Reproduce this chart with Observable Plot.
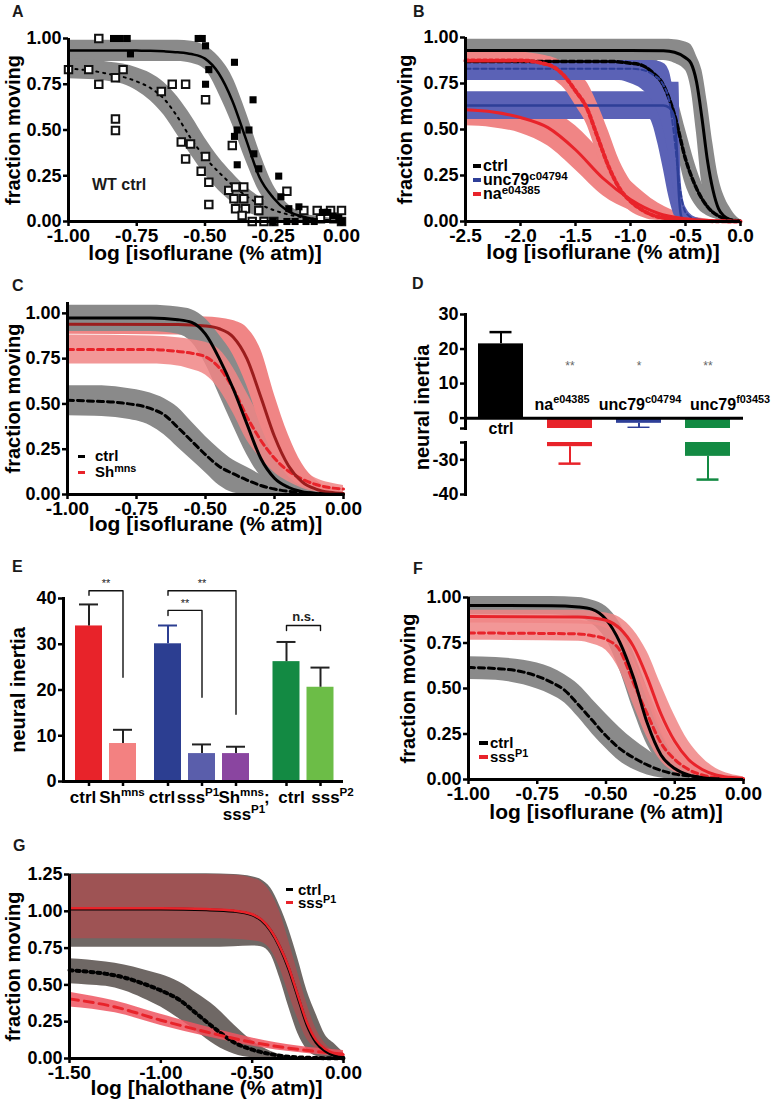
<!DOCTYPE html>
<html><head><meta charset="utf-8">
<script src="https://cdn.jsdelivr.net/npm/d3@7"></script>
<script src="https://cdn.jsdelivr.net/npm/@observablehq/plot@0.6"></script>
<style>
body{margin:0;background:#fff;font-family:"Liberation Sans",Arial,Helvetica,sans-serif;font-weight:bold;}
#page{position:relative;width:778px;height:1109px;overflow:hidden;background:#fff;}
.panel{position:absolute;}
.lab{position:absolute;font-size:16px;font-weight:bold;line-height:16px;color:#1a1a1a;}
.leg{position:absolute;font-weight:bold;white-space:nowrap;}
.leg .sw{display:inline-block;vertical-align:middle;position:relative;top:-1px;}
.leg sup{font-size:72%;line-height:0;vertical-align:0.45em;}
</style></head><body><div id="page"></div><script>
// ---------- Panel A (WT ctrl) ----------
const A_x      = [-1.00,-0.95,-0.90,-0.85,-0.80,-0.75,-0.70,-0.65,-0.60,-0.55,-0.50,-0.45,-0.40,-0.35,-0.30,-0.25,-0.20,-0.15,-0.10,-0.05,0.00];
const A_solid  = [0.935,0.935,0.935,0.935,0.935,0.934,0.933,0.93,0.925,0.915,0.89,0.81,0.66,0.45,0.24,0.13,0.06,0.03,0.012,0.005,0.002];
const A_solidHi= [0.99,0.99,0.99,0.99,0.99,0.99,0.99,0.99,0.99,0.985,0.96,0.9,0.79,0.6,0.38,0.2,0.1,0.05,0.025,0.01,0.005];
const A_solidLo= [0.875,0.875,0.875,0.875,0.875,0.875,0.875,0.875,0.875,0.865,0.83,0.7,0.53,0.33,0.16,0.07,0.025,0.01,0,0,0];
const A_dot    = [0.835,0.83,0.82,0.805,0.79,0.765,0.73,0.67,0.57,0.45,0.35,0.27,0.2,0.14,0.095,0.063,0.04,0.025,0.015,0.008,0.004];
const A_dotHi  = [0.89,0.885,0.88,0.87,0.86,0.84,0.81,0.76,0.68,0.575,0.455,0.35,0.265,0.19,0.135,0.095,0.065,0.045,0.03,0.02,0.012];
const A_dotLo  = [0.78,0.778,0.775,0.765,0.75,0.715,0.66,0.58,0.47,0.36,0.255,0.17,0.105,0.055,0.025,0.01,0,0,0,0,0];
const A_filledX = [-0.835,-0.81,-0.785,-0.773,-0.525,-0.51,-0.498,-0.486,-0.392,-0.498,-0.324,-0.382,-0.339,-0.392,-0.321,-0.382,-0.303,-0.23,-0.222,-0.193,-0.156,-0.25,-0.2,-0.17,-0.13,-0.1,-0.07,-0.05,-0.03,-0.01,0.0];
const A_filledY = [1,1,1,0.916,1,1,0.96,0.83,0.87,0.75,0.665,0.5,0.5,0.465,0.37,0.31,0.288,0.248,0.135,0.07,0.08,0,0,0,0,0,0.05,0.05,0.03,0.02,0];
const A_openX = [-0.889,-1.0,-0.926,-0.80,-0.828,-0.889,-0.828,-0.828,-0.66,-0.62,-0.571,-0.498,-0.587,-0.553,-0.571,-0.498,-0.514,-0.486,-0.486,-0.40,-0.413,-0.388,-0.358,-0.394,-0.358,-0.388,-0.352,-0.364,-0.327,-0.284,-0.248,-0.303,-0.303,-0.2,-0.138,-0.089,-0.04,0.0,-0.077,-0.028,0.0];
const A_openY = [1.0,0.83,0.83,0.83,0.785,0.75,0.56,0.497,0.71,0.75,0.75,0.665,0.434,0.424,0.342,0.355,0.275,0.215,0.093,0.415,0.17,0.188,0.188,0.124,0.124,0.07,0.07,0.033,0,0,0,0.115,0.06,0.165,0.06,0.06,0.06,0.06,0.015,0.015,0];

// ---------- Panel B ----------
const B_ctrlX  = [-2.5,-1.0,-0.7,-0.6,-0.5,-0.45,-0.4,-0.35,-0.3,-0.25,-0.2,-0.15,-0.1,-0.05,0];
const B_ctrlY  = [0.93,0.93,0.928,0.92,0.89,0.86,0.76,0.56,0.33,0.17,0.07,0.03,0.012,0.005,0.002];
const B_ctrlHi = [0.99,0.99,0.99,0.988,0.975,0.96,0.9,0.82,0.64,0.42,0.24,0.14,0.08,0.035,0.01];
const B_ctrlLo = [0.875,0.875,0.875,0.86,0.82,0.72,0.48,0.2,0.07,0.025,0.01,0,0,0,0];
const B_ctrlDX  = [-2.5,-1.2,-1.0,-0.9,-0.8,-0.7,-0.6,-0.5,-0.4,-0.3,-0.2,-0.1,0];
const B_ctrlDY  = [0.87,0.87,0.86,0.85,0.81,0.74,0.58,0.34,0.18,0.08,0.03,0.01,0.003];
const B_ctrlDHi = [0.93,0.93,0.925,0.915,0.89,0.84,0.72,0.5,0.29,0.14,0.06,0.02,0.005];
const B_ctrlDLo = [0.81,0.81,0.8,0.78,0.73,0.63,0.44,0.2,0.08,0.03,0.01,0,0];
const B_uncX  = [-2.5,-0.82,-0.8,-0.75,-0.7,-0.65,-0.6,-0.58,-0.56,-0.55,-0.54,-0.52,-0.5,0];
const B_uncY  = [0.63,0.63,0.63,0.63,0.63,0.62,0.56,0.4,0.15,0.07,0.03,0.005,0,0];
const B_uncHi = [0.705,0.705,0.71,0.73,0.745,0.755,0.757,0.757,0.757,0.5,0.2,0.03,0.01,0];
const B_uncLo = [0.555,0.555,0.53,0.42,0.28,0.13,0.03,0.01,0,0,0,0,0,0];
const B_uncDX  = [-2.5,-1.1,-1.0,-0.9,-0.8,-0.7,-0.65,-0.6,-0.57,-0.55,-0.5,-0.4,-0.2,0];
const B_uncDY  = [0.83,0.83,0.83,0.825,0.8,0.74,0.66,0.45,0.28,0.18,0.05,0.01,0.002,0];
const B_uncDHi = [0.875,0.875,0.875,0.875,0.875,0.86,0.82,0.65,0.45,0.28,0.08,0.02,0,0];
const B_uncDLo = [0.766,0.766,0.75,0.72,0.65,0.5,0.35,0.15,0.05,0.02,0,0,0,0];
const B_naX  = [-2.5,-2.25,-2.0,-1.75,-1.5,-1.25,-1.0,-0.75,-0.5,-0.25,0];
const B_naY  = [0.607,0.595,0.565,0.51,0.39,0.235,0.12,0.045,0.015,0.004,0.001];
const B_naHi = [0.69,0.685,0.665,0.62,0.52,0.37,0.22,0.1,0.035,0.01,0.003];
const B_naLo = [0.52,0.51,0.48,0.41,0.28,0.14,0.06,0.02,0.005,0,0];
const B_naDX  = [-2.5,-2.0,-1.8,-1.7,-1.6,-1.5,-1.4,-1.3,-1.2,-1.1,-1.0,-0.9,-0.8,-0.6,-0.4,0];
const B_naDY  = [0.875,0.875,0.86,0.84,0.79,0.71,0.62,0.46,0.3,0.18,0.11,0.065,0.035,0.012,0.004,0];
const B_naDHi = [0.925,0.92,0.905,0.89,0.86,0.81,0.76,0.64,0.49,0.33,0.22,0.14,0.085,0.03,0.01,0];
const B_naDLo = [0.82,0.82,0.8,0.77,0.72,0.63,0.53,0.36,0.21,0.11,0.055,0.025,0.008,0,0,0];

// ---------- Panel C ----------
const C_ctrlX  = [-1,-0.7,-0.6,-0.55,-0.5,-0.45,-0.4,-0.35,-0.3,-0.25,-0.2,-0.15,-0.1,-0.05,0];
const C_ctrlY  = [0.975,0.974,0.965,0.95,0.885,0.75,0.585,0.39,0.2,0.09,0.04,0.015,0.006,0.002,0.001];
const C_ctrlHi = [1.045,1.045,1.035,1.02,0.97,0.88,0.77,0.6,0.38,0.21,0.1,0.045,0.02,0.008,0.003];
const C_ctrlLo = [0.9,0.9,0.885,0.84,0.72,0.55,0.38,0.22,0.1,0.04,0.015,0,0,0,0];
const C_ctrlDX  = [-1,-0.9,-0.8,-0.7,-0.65,-0.6,-0.55,-0.5,-0.45,-0.4,-0.35,-0.3,-0.25,-0.2,-0.1,0];
const C_ctrlDY  = [0.52,0.515,0.505,0.475,0.44,0.37,0.295,0.22,0.155,0.115,0.08,0.05,0.03,0.018,0.006,0.002];
const C_ctrlDHi = [0.6,0.6,0.59,0.56,0.53,0.48,0.4,0.32,0.25,0.19,0.15,0.11,0.075,0.045,0.015,0.005];
const C_ctrlDLo = [0.435,0.432,0.42,0.38,0.33,0.26,0.19,0.12,0.05,0.01,0,0,0,0,0,0];
const C_shX  = [-1,-0.6,-0.5,-0.45,-0.4,-0.35,-0.3,-0.25,-0.2,-0.15,-0.1,-0.05,0];
const C_shY  = [0.94,0.938,0.93,0.915,0.87,0.75,0.54,0.32,0.16,0.07,0.03,0.012,0.005];
const C_shHi = [0.985,0.985,0.98,0.975,0.96,0.92,0.8,0.55,0.33,0.17,0.08,0.035,0.015];
const C_shLo = [0.885,0.88,0.86,0.82,0.71,0.5,0.3,0.15,0.065,0.025,0.01,0,0];
const C_shDX  = [-1,-0.7,-0.6,-0.55,-0.5,-0.45,-0.4,-0.35,-0.3,-0.25,-0.2,-0.15,-0.1,-0.05,0];
const C_shDY  = [0.8,0.8,0.79,0.78,0.76,0.7,0.585,0.43,0.3,0.2,0.13,0.085,0.055,0.038,0.03];
const C_shDHi = [0.88,0.875,0.865,0.855,0.84,0.8,0.7,0.56,0.42,0.3,0.21,0.14,0.09,0.065,0.05];
const C_shDLo = [0.72,0.72,0.71,0.69,0.66,0.58,0.45,0.3,0.2,0.12,0.07,0.035,0.015,0.01,0.01];

// ---------- Panel D ----------
const D_keys   = ["ctrl","na","unc79c","unc79f"];
const D_labels = ["ctrl","na^{e04385}","unc79^{c04794}","unc79^{f03453}"];
const D_values = [21.5,-26.2,-1.5,-29.0];
const D_errors = [24.9,-31.1,-2.8,-35.7];
const D_sig    = ["","**","*","**"];
const D_sigY   = 15;

// ---------- Panel E ----------
const E_keys   = ["ctrl1","sh","ctrl2","sss","shsss","ctrl3","sss2"];
const E_labels = ["ctrl","Sh^{mns}","ctrl","sss^{P1}","Sh^{mns};\nsss^{P1}","ctrl","sss^{P2}"];
const E_groups = [0,0,1,1,1,2,2];
const E_values = [34.0,8.3,30.1,6.1,6.1,26.2,20.6];
const E_errors = [38.7,11.3,34.1,8.1,7.6,30.5,24.9];
const E_brFrom    = ["ctrl1","ctrl2","ctrl2","ctrl3"];
const E_brTo      = ["sh","sss","shsss","sss2"];
const E_brTop     = [41.7,37.4,41.7,34.1];
const E_brFromEnd = [40.7,36.3,40.7,33.0];
const E_brToEnd   = [22.8,18.4,14.7,33.0];
const E_brText    = ["**","**","**","n.s."];

// ---------- Panel F ----------
const F_ctrlX  = [-1,-0.7,-0.6,-0.55,-0.5,-0.45,-0.4,-0.35,-0.3,-0.25,-0.2,-0.15,-0.1,0];
const F_ctrlY  = [0.956,0.955,0.948,0.935,0.88,0.755,0.56,0.31,0.135,0.06,0.025,0.01,0.004,0.001];
const F_ctrlHi = [1.005,1.005,1.0,0.985,0.95,0.86,0.7,0.5,0.27,0.13,0.06,0.03,0.015,0.004];
const F_ctrlLo = [0.906,0.905,0.89,0.855,0.77,0.6,0.38,0.19,0.08,0.03,0.01,0,0,0];
const F_ctrlDX  = [-1,-0.9,-0.8,-0.7,-0.65,-0.6,-0.55,-0.5,-0.45,-0.4,-0.35,-0.3,-0.25,-0.2,-0.1,0];
const F_ctrlDY  = [0.615,0.61,0.59,0.535,0.49,0.41,0.325,0.24,0.17,0.12,0.08,0.05,0.03,0.02,0.006,0.002];
const F_ctrlDHi = [0.675,0.67,0.655,0.615,0.575,0.52,0.44,0.36,0.285,0.22,0.165,0.115,0.08,0.05,0.02,0.006];
const F_ctrlDLo = [0.55,0.545,0.52,0.465,0.42,0.34,0.25,0.17,0.1,0.055,0.025,0.008,0,0,0,0];
const F_sssX  = [-1,-0.6,-0.55,-0.5,-0.45,-0.4,-0.35,-0.3,-0.25,-0.2,-0.15,-0.1,-0.05,0];
const F_sssY  = [0.895,0.893,0.888,0.875,0.83,0.73,0.56,0.36,0.21,0.11,0.055,0.025,0.012,0.006];
const F_sssHi = [0.93,0.93,0.925,0.915,0.89,0.82,0.7,0.52,0.35,0.21,0.12,0.06,0.03,0.015];
const F_sssLo = [0.86,0.855,0.85,0.83,0.77,0.64,0.44,0.25,0.12,0.05,0.02,0.008,0,0];
const F_sssDX  = [-1,-0.6,-0.55,-0.5,-0.45,-0.4,-0.35,-0.3,-0.25,-0.2,-0.15,-0.1,0];
const F_sssDY  = [0.805,0.8,0.79,0.77,0.71,0.53,0.36,0.2,0.11,0.055,0.025,0.01,0.002];
const F_sssDHi = [0.88,0.875,0.865,0.85,0.8,0.66,0.5,0.33,0.19,0.1,0.05,0.02,0.005];
const F_sssDLo = [0.765,0.76,0.745,0.71,0.6,0.41,0.23,0.1,0.04,0.015,0.005,0,0];

// ---------- Panel G (halothane) ----------
const G_X      = [-1.5,-1.0,-0.75,-0.6,-0.5,-0.45,-0.4,-0.35,-0.3,-0.25,-0.2,-0.15,-0.1,-0.05,0];
const G_ctrlY  = [1.015,1.015,1.01,1.0,0.975,0.94,0.87,0.76,0.61,0.42,0.23,0.11,0.05,0.02,0.008];
const G_ctrlHi = [1.255,1.255,1.255,1.25,1.235,1.215,1.16,1.04,0.88,0.68,0.46,0.3,0.16,0.1,0.04];
const G_ctrlLo = [0.755,0.755,0.756,0.76,0.765,0.76,0.71,0.55,0.35,0.17,0.06,0.015,0,0,0];
const G_sssY   = [1.02,1.02,1.015,1.005,0.98,0.945,0.875,0.765,0.62,0.43,0.245,0.125,0.065,0.035,0.025];
const G_sssHi  = [1.25,1.25,1.25,1.245,1.225,1.2,1.13,1.0,0.8,0.58,0.37,0.2,0.1,0.05,0.035];
const G_sssLo  = [0.813,0.813,0.813,0.81,0.8,0.79,0.74,0.62,0.44,0.27,0.13,0.07,0.035,0.015,0.01];
const G_ctrlDX  = [-1.5,-1.4,-1.3,-1.2,-1.1,-1.0,-0.9,-0.8,-0.7,-0.6,-0.5,-0.4,-0.3,-0.2,0];
const G_ctrlDY  = [0.6,0.59,0.575,0.55,0.51,0.462,0.4,0.3,0.2,0.11,0.06,0.03,0.012,0.005,0.001];
const G_ctrlDHi = [0.678,0.67,0.655,0.635,0.605,0.57,0.52,0.44,0.35,0.23,0.12,0.05,0.015,0.005,0];
const G_ctrlDLo = [0.507,0.5,0.49,0.46,0.41,0.35,0.27,0.18,0.09,0.03,0.005,0,0,0,0];
const G_sssDX  = [-1.5,-1.25,-1.0,-0.75,-0.5,-0.25,0];
const G_sssDY  = [0.405,0.35,0.26,0.18,0.11,0.062,0.03];
const G_sssDHi = [0.45,0.39,0.3,0.215,0.14,0.085,0.055];
const G_sssDLo = [0.35,0.31,0.225,0.15,0.085,0.04,0.012];

// ---------- styles ----------
const FONT = '"Liberation Sans", Arial, Helvetica, sans-serif';
const STYLE = {fontFamily: FONT, fontWeight: "bold", background: "transparent", overflow: "visible", color: "#000"};
const GREY = "#8a8a8a", PINK = "#f08585", BLUEBAND = "#5b62b6", RED = "#e8232a", BLUE = "#2e3f98", DARKRED = "#9b1d1d", GREEN = "#138a43";
const GGREY = "#6f6865";
const D_fill = {ctrl: "#000", na: RED, unc79c: BLUE, unc79f: GREEN};
const D_labelNudge = {ctrl: 0, na: -8, unc79c: 1, unc79f: 22};
const E_fill = {ctrl1: RED, sh: "#f38181", ctrl2: "#2c3e91", sss: "#5a5eab", shsss: "#8a45a0", ctrl3: GREEN, sss2: "#6cbd47"};
const E_errStroke = {ctrl1: "#222", sh: "#222", ctrl2: "#2c3e91", sss: "#222", shsss: "#222", ctrl3: "#222", sss2: "#222"};
const E_labelNudge = {ctrl1: -6, sh: -1, ctrl2: -6, sss: -4, shsss: 8, ctrl3: 5, sss2: 12};

const page = document.getElementById("page");
const rows = (xs, ys, lo, hi) => xs.map((x, i) => ({x, y: ys[i], lo: lo[i], hi: hi[i]}));
const band = (r, fill, op = 1) => Plot.areaY(r, {x: "x", y1: "lo", y2: "hi", fill, fillOpacity: op, curve: "monotone-x"});
const fit = (r, stroke, w, dash) => Plot.line(r, {x: "x", y: "y", stroke, strokeWidth: w, strokeDasharray: dash, curve: "monotone-x"});

function applySup(root) {
  root.querySelectorAll("text, tspan").forEach(el => {
    if (el.children.length) return;
    const s = el.textContent;
    if (!s.includes("^{")) return;
    const fs = parseFloat(getComputedStyle(el).fontSize) || 16;
    el.textContent = "";
    const re = /\^\{([^}]*)\}/g; let last = 0, m;
    while ((m = re.exec(s))) {
      if (m.index > last) el.appendChild(document.createTextNode(s.slice(last, m.index)));
      const t = document.createElementNS("http://www.w3.org/2000/svg", "tspan");
      t.setAttribute("baseline-shift", (fs * 0.42).toFixed(1));
      t.style.fontSize = (fs * 0.68).toFixed(1) + "px";
      t.textContent = m[1];
      el.appendChild(t);
      last = re.lastIndex;
    }
    if (last < s.length) el.appendChild(document.createTextNode(s.slice(last)));
  });
}
function mount(svg, left, top) {
  const d = document.createElement("div");
  d.className = "panel"; d.style.left = left + "px"; d.style.top = top + "px";
  d.appendChild(svg); page.appendChild(d);
  applySup(svg);
}
function html(cls, left, top, content, css = "") {
  const d = document.createElement("div");
  d.className = cls; d.style.left = left + "px"; d.style.top = top + "px";
  d.style.cssText += css; d.innerHTML = content; page.appendChild(d);
}
function legend(items, left, centerY, rowH, fs, swW, swH, gap) {
  items.forEach(([color, label], i) => {
    html("leg", left, centerY + i * rowH - rowH / 2,
      `<span class="sw" style="width:${swW}px;height:${swH}px;background:${color};margin-right:${gap}px"></span><span>${label}</span>`,
      `height:${rowH}px;font-size:${fs}px;line-height:${rowH}px;`);
  });
}

const axisText = {fontSize: 18, fontWeight: "bold", label: null, tickSize: 5, tickPadding: 2, strokeWidth: 2.5};
function curvePanel(o) {
  const svg = Plot.plot({
    width: o.width, height: o.height, marginLeft: o.ml, marginTop: o.mt, marginRight: o.mr, marginBottom: o.mb,
    style: STYLE,
    x: {domain: o.xDomain}, y: {domain: o.yDomain},
    marks: [
      ...o.marks,
      Plot.ruleY([0], {strokeWidth: 3}),
      Plot.ruleX([o.xDomain[0]], {strokeWidth: 3}),
      Plot.axisX({...axisText, fontSize: 19, ticks: o.xTicks, tickFormat: d => d.toFixed(o.xDigits)}),
      Plot.axisY({...axisText, ticks: o.yTicks, tickFormat: d => d.toFixed(2)}),
      Plot.text([o.xTitle], {frameAnchor: "bottom", dy: o.titleDy, fontSize: 21, fontWeight: "bold"}),
      Plot.text([o.yTitle], {frameAnchor: "left", rotate: -90, dx: o.yTitleDx, fontSize: 20, fontWeight: "bold", textAnchor: "middle"})
    ]
  });
  mount(svg, o.left, o.top);
}
const ISO = "log [isoflurane (% atm)]", FM = "fraction moving";
const T1 = [-1, -0.75, -0.5, -0.25, 0], Y1 = [0, 0.25, 0.5, 0.75, 1];

// ---- A ----
const aS = rows(A_x, A_solid, A_solidLo, A_solidHi), aD = rows(A_x, A_dot, A_dotLo, A_dotHi);
curvePanel({left: 0, top: 20, width: 375, height: 265, ml: 68, mt: 18, mr: 34, mb: 64,
  xDomain: [-1, 0], yDomain: [0, 1], xTicks: T1, yTicks: Y1, xDigits: 2, xTitle: ISO, yTitle: FM, titleDy: 38, yTitleDx: -55,
  marks: [band(aS, GREY), band(aD, GREY), fit(aS, "#000", 2.5), fit(aD, "#000", 2, "2,5"),
    Plot.dot(A_openX.map((x, i) => ({x, y: A_openY[i]})), {x: "x", y: "y", symbol: "square", r: 4.2, fill: "white", stroke: "#111", strokeWidth: 2}),
    Plot.dot(A_filledX.map((x, i) => ({x, y: A_filledY[i]})), {x: "x", y: "y", symbol: "square", r: 4, fill: "#000"})]});

// ---- B ----
const bC = rows(B_ctrlX, B_ctrlY, B_ctrlLo, B_ctrlHi), bCD = rows(B_ctrlDX, B_ctrlDY, B_ctrlDLo, B_ctrlDHi);
const bU = rows(B_uncX, B_uncY, B_uncLo, B_uncHi), bUD = rows(B_uncDX, B_uncDY, B_uncDLo, B_uncDHi);
const bN = rows(B_naX, B_naY, B_naLo, B_naHi), bND = rows(B_naDX, B_naDY, B_naDLo, B_naDHi);
curvePanel({left: 390, top: 20, width: 385, height: 265, ml: 75, mt: 17, mr: 35, mb: 64,
  xDomain: [-2.5, 0], yDomain: [0, 1], xTicks: [-2.5, -2, -1.5, -1, -0.5, 0], yTicks: Y1, xDigits: 1, xTitle: ISO, yTitle: FM, titleDy: 37, yTitleDx: -60,
  marks: [band(bC, GREY), band(bCD, GREY), band(bN, PINK), band(bU, BLUEBAND), band(bND, PINK), band(bUD, BLUEBAND),
    fit(bC, "#000", 3), fit(bCD, "#000", 3.5, "5,3"), fit(bU, BLUE, 2.5), fit(bUD, BLUE, 2, "5,3"),
    fit(bN, RED, 3), fit(bND, RED, 4, "3,3")]});

// ---- C ----
const cC = rows(C_ctrlX, C_ctrlY, C_ctrlLo, C_ctrlHi), cCD = rows(C_ctrlDX, C_ctrlDY, C_ctrlDLo, C_ctrlDHi);
const cS = rows(C_shX, C_shY, C_shLo, C_shHi), cSD = rows(C_shDX, C_shDY, C_shDLo, C_shDHi);
curvePanel({left: 0, top: 280, width: 375, height: 275, ml: 67, mt: 22, mr: 32, mb: 61,
  xDomain: [-1, 0], yDomain: [0, 1.06], xTicks: T1, yTicks: Y1, xDigits: 2, xTitle: ISO, yTitle: FM, titleDy: 36, yTitleDx: -54,
  marks: [band(cS, PINK), band(cC, GREY), band(cCD, GREY), band(cSD, PINK, 0.85),
    fit(cCD, "#000", 3, "6,4"), fit(cSD, RED, 3, "6,4"), fit(cS, DARKRED, 3), fit(cC, "#000", 3)]});

// ---- D (broken axis: two stacked plots) ----
const D_rows = D_keys.map((key, i) => ({key, label: D_labels[i], value: D_values[i], err: D_errors[i], sig: D_sig[i]}));
const D_x = {type: "band", domain: D_keys, paddingInner: 0.35, paddingOuter: 0.175, align: 0.5, axis: null};
const dBars = () => [
  Plot.barY(D_rows, {x: "key", y: "value", fill: d => D_fill[d.key], clip: true}),
  Plot.ruleX(D_rows, {x: "key", y1: "value", y2: "err", stroke: d => D_fill[d.key], strokeWidth: 2, clip: true}),
  Plot.tickY(D_rows, {x: "key", y: "err", stroke: d => D_fill[d.key], strokeWidth: 2.5, insetLeft: 11.5, insetRight: 11.5, clip: true})
];
const dLabels = D_rows.map(r => Plot.text([r], {x: "key", y: 0, text: "label", dy: r.key === "ctrl" ? 11 : -13,
  dx: D_labelNudge[r.key], fontSize: 16, fontWeight: "bold"}));
mount(Plot.plot({width: 385, height: 150, marginLeft: 75, marginRight: 32, marginTop: 24, marginBottom: 12,
  style: STYLE, x: D_x, y: {domain: [-3, 30]}, color: {type: "identity"},
  marks: [...dBars(), Plot.ruleY([0], {strokeWidth: 3}), Plot.frame({anchor: "left", strokeWidth: 3}),
    Plot.axisY({...axisText, ticks: [30, 20, 10, 0, -3], tickFormat: d => d === -3 ? "" : String(d)}),
    Plot.text(D_rows.filter(d => d.sig), {x: "key", y: D_sigY, text: "sig", fontSize: 12, fontWeight: "normal", fill: "#666"}),
    ...dLabels,
    Plot.text(["neural inertia"], {frameAnchor: "left", rotate: -90, dx: -43, dy: 36, fontSize: 20, fontWeight: "bold", textAnchor: "middle"})
  ]}), 390, 290);
mount(Plot.plot({width: 385, height: 100, marginLeft: 75, marginRight: 32, marginTop: 12, marginBottom: 36,
  style: STYLE, x: D_x, y: {domain: [-40, -25]}, color: {type: "identity"},
  marks: [...dBars(), Plot.frame({anchor: "left", strokeWidth: 3}),
    Plot.axisY({...axisText, ticks: [-25, -30, -40], tickFormat: d => d === -25 ? "" : String(d)})
  ]}), 390, 430);

// ---- E ----
const E_xOpts = {type: "band", domain: E_keys, range: [82, 320], paddingInner: 0.22, paddingOuter: 0.11, align: 0.5};
const E_shift = [-11, 0, 16.5];
const E_rows = E_keys.map((key, i) => ({key, label: E_labels[i], group: E_groups[i], value: E_values[i], err: E_errors[i]}));
const eScale = Plot.scale({x: E_xOpts});
const eMarks = [];
for (let g = 0; g < 3; g++) {
  const rg = E_rows.filter(r => r.group === g), dx = E_shift[g];
  eMarks.push(
    Plot.barY(rg, {x: "key", y: "value", fill: d => E_fill[d.key], dx}),
    Plot.ruleX(rg, {x: "key", y1: "value", y2: "err", stroke: d => E_errStroke[d.key], strokeWidth: 2, dx}),
    Plot.tickY(rg, {x: "key", y: "err", stroke: d => E_errStroke[d.key], strokeWidth: 2, insetLeft: 4, insetRight: 4, dx}),
    Plot.axisX(rg.map(r => r.key), {...axisText, tickFormat: () => "", dx})
  );
}
E_rows.forEach(r => eMarks.push(Plot.text([r], {x: "key", frameAnchor: "bottom", text: "label", lineAnchor: "top", dy: 9,
  dx: E_shift[r.group] + E_labelNudge[r.key], fontSize: 17, fontWeight: "bold"})));
E_brFrom.forEach((from, i) => {
  const to = E_brTo[i], dx = E_shift[E_groups[E_keys.indexOf(from)]];
  const pts = [{k: from, v: E_brFromEnd[i]}, {k: from, v: E_brTop[i]}, {k: to, v: E_brTop[i]}, {k: to, v: E_brToEnd[i]}];
  eMarks.push(Plot.line(pts, {x: "k", y: "v", stroke: "#111", strokeWidth: 1.4, dx}));
  const half = (eScale.apply(to) - eScale.apply(from)) / 2;
  const ns = E_brText[i] !== "**";
  eMarks.push(Plot.text([E_brText[i]], {x: () => from, y: () => E_brTop[i], dx: dx + half, dy: ns ? -9 : -7,
    fontSize: ns ? 13 : 11, fontWeight: ns ? "bold" : "normal", fill: "#222"}));
});
mount(Plot.plot({width: 375, height: 281, marginLeft: 63, marginRight: 32, marginTop: 38, marginBottom: 60,
  style: STYLE, x: E_xOpts, y: {domain: [0, 40]}, color: {type: "identity"},
  marks: [...eMarks, Plot.ruleY([0], {strokeWidth: 3}), Plot.frame({anchor: "left", strokeWidth: 3}),
    Plot.axisY({...axisText, ticks: [0, 10, 20, 30, 40]}),
    Plot.text(["neural inertia"], {frameAnchor: "left", rotate: -90, dx: -45, fontSize: 20, fontWeight: "bold", textAnchor: "middle"})
  ]}), 0, 560);

// ---- F ----
const fC = rows(F_ctrlX, F_ctrlY, F_ctrlLo, F_ctrlHi), fCD = rows(F_ctrlDX, F_ctrlDY, F_ctrlDLo, F_ctrlDHi);
const fS = rows(F_sssX, F_sssY, F_sssLo, F_sssHi), fSD = rows(F_sssDX, F_sssDY, F_sssDLo, F_sssDHi);
curvePanel({left: 390, top: 560, width: 385, height: 281, ml: 78, mt: 37, mr: 32, mb: 62,
  xDomain: [-1, 0], yDomain: [0, 1], xTicks: T1, yTicks: Y1, xDigits: 2, xTitle: ISO, yTitle: FM, titleDy: 39, yTitleDx: -60,
  marks: [band(fC, GREY), band(fCD, GREY), band(fS, PINK, 0.85), band(fSD, PINK, 0.85),
    fit(fCD, "#000", 3, "6,4"), fit(fSD, RED, 3, "6,4"), fit(fC, "#000", 3), fit(fS, RED, 3)]});

// ---- G ----
const gC = rows(G_X, G_ctrlY, G_ctrlLo, G_ctrlHi), gS = rows(G_X, G_sssY, G_sssLo, G_sssHi);
const gCD = rows(G_ctrlDX, G_ctrlDY, G_ctrlDLo, G_ctrlDHi), gSD = rows(G_sssDX, G_sssDY, G_sssDLo, G_sssDHi);
curvePanel({left: 0, top: 830, width: 375, height: 279, ml: 69, mt: 44, mr: 32, mb: 51,
  xDomain: [-1.5, 0], yDomain: [0, 1.25], xTicks: [-1.5, -1, -0.5, 0], yTicks: [0, 0.25, 0.5, 0.75, 1, 1.25], xDigits: 2,
  xTitle: "log [halothane (% atm)]", yTitle: FM, titleDy: 36, yTitleDx: -56,
  marks: [band(gC, GGREY), band(gCD, GGREY), band(gS, "#e0383e", 0.42), band(gSD, "#ee5560", 0.85),
    fit(gCD, "#000", 4, "3,4"), fit(gSD, RED, 3, "9,6"), fit(gC, "#000", 3), fit(gS, RED, 2.5)]});

// ---- panel letters, labels and legends ----
[["A", 12, 4], ["B", 413, 4], ["C", 12, 278], ["D", 412, 276], ["E", 12, 559], ["F", 413, 561], ["G", 13, 838]]
  .forEach(([t, x, y]) => html("lab", x, y, t));
html("lab", 92, 177, "WT ctrl");
legend([["#000", "ctrl"], [BLUE, "unc79<sup>c04794</sup>"], [RED, "na<sup>e04385</sup>"]], 473, 166, 14, 16, 8, 3.5, 2);
legend([["#000", "ctrl"], [RED, "Sh<sup>mns</sup>"]], 78, 456, 16, 15, 7, 3, 10);
legend([["#000", "ctrl"], [RED, "sss<sup>P1</sup>"]], 479, 743, 14, 15, 9, 3.5, 2);
legend([["#000", "ctrl"], [RED, "sss<sup>P1</sup>"]], 286, 889, 13, 15, 7, 3, 5);
</script></body></html>
